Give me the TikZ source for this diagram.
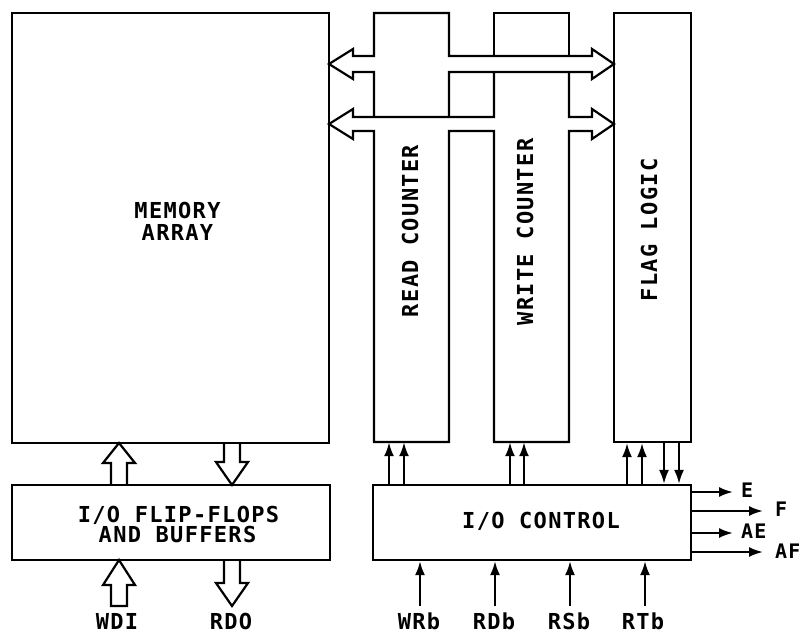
\documentclass[tikz,border=0pt]{standalone}
\usepackage{fontspec}
\newfontfamily\dfont[LetterSpace=6]{DejaVu Sans Mono Bold}
\usetikzlibrary{arrows.meta}
\begin{document}
\begin{tikzpicture}[x=1pt,y=-1pt,
  ln/.style={line width=2.2pt, line join=miter},
  box/.style={draw, line width=2.2pt, inner sep=0pt},
  ghost/.style={inner sep=0pt},
  lbl/.style={inner sep=0pt, anchor=base, font=\dfont\fontsize{22}{26}\selectfont},
  slbl/.style={inner sep=0pt, anchor=base west, font=\dfont\fontsize{20}{24}\selectfont},
  sarr/.style={line width=2.2pt, -{Latex[length=14pt,width=10pt]}}]
\useasboundingbox (0,0) rectangle (799,634);

% boxes
\node[box, minimum width=317pt, minimum height=430pt] (mem) at (170.5,228) {};
\node[box, minimum width=77pt, minimum height=429pt] (flag) at (652.5,227.5) {};
\node[box, minimum width=318pt, minimum height=75pt] (iof) at (171,522.5) {};
\node[box, minimum width=318pt, minimum height=75pt] (ctl) at (532,522.5) {};
\node[ghost, minimum width=75pt, minimum height=311pt] (rc) at (411.5,286.5) {};
\node[ghost, minimum width=75pt, minimum height=311pt] (wc) at (531.5,286.5) {};

% counters and buses
\draw[ln] (494,72) -- (494,117) -- (353,117) -- (353,109) -- (329,124) -- (353,139)
  -- (353,131) -- (374,131) -- (374,442) -- (449,442) -- (449,131) -- (494,131)
  -- (494,442) -- (569,442) -- (569,131) -- (592,131) -- (592,139) -- (614,124)
  -- (592,109) -- (592,117) -- (569,117) -- (569,72);
\draw[ln] (374,117) -- (374,72) -- (353,72) -- (353,79) -- (329,64) -- (353,49)
  -- (353,56) -- (374,56) -- (374,13) -- (449,13) -- (449,56) -- (592,56)
  -- (592,49) -- (614,64) -- (592,79) -- (592,72) -- (449,72) -- (449,117);
\draw[ln] (494,56) -- (494,13) -- (569,13) -- (569,56);

% hollow arrows
\draw[ln] (111,485) -- (111,463) -- (103,463) -- (119,443) -- (135,463) -- (127,463) -- (127,485);
\draw[ln] (224,443) -- (224,462) -- (216,462) -- (232,485) -- (248,462) -- (240,462) -- (240,443);
\draw[ln] (111,606) -- (111,585) -- (103,585) -- (119,560) -- (135,585) -- (127,585) -- (127,606) -- cycle;
\draw[ln] (224,560) -- (224,583) -- (216,583) -- (232,606) -- (248,583) -- (240,583) -- (240,560);

% texts
\node[lbl] (m1) at (177.5,218) {MEMORY};
\node[lbl] (m2) at (177.5,240) {ARRAY};
\node[lbl] (f1) at (178.5,522) {I/O FLIP-FLOPS};
\node[lbl] (f2) at (177.5,542) {AND BUFFERS};
\node[lbl] (c1) at (541,528) {I/O CONTROL};
\node[lbl, rotate=90] (rct) at (418,231) {READ COUNTER};
\node[lbl, rotate=90] (wct) at (533,232) {WRITE COUNTER};
\node[lbl, rotate=90] (flt) at (657,230) {FLAG LOGIC};
\node[lbl] (wdi) at (117,629) {WDI};
\node[lbl] (rdo) at (231,629) {RDO};
\node[lbl] (wrb) at (419,629) {WRb};
\node[lbl] (rdb) at (494,629) {RDb};
\node[lbl] (rsb) at (569,629) {RSb};
\node[lbl] (rtb) at (643,629) {RTb};
\node[slbl] (e) at (741,497) {E};
\node[slbl] (f) at (775,516) {F};
\node[slbl] (ae) at (741,538) {AE};
\node[slbl] (af) at (775,558) {AF};

% control arrows up into counters
\foreach \x in {389,404} \draw[sarr] (\x,0 |- ctl.north) -- (\x,0 |- rc.south);
\foreach \x in {510,524} \draw[sarr] (\x,0 |- ctl.north) -- (\x,0 |- wc.south);
\foreach \x in {627,642} \draw[sarr] (\x,0 |- ctl.north) -- (\x,0 |- flag.south);
\foreach \x in {664,679} \draw[sarr] (\x,0 |- flag.south) -- (\x,0 |- ctl.north);

% inputs
\foreach \x in {420,495,570,645} \draw[sarr] (\x,606) -- (\x,0 |- ctl.south);

% outputs
\draw[sarr] (ctl.east |- 0,492) -- (733,492);
\draw[sarr] (ctl.east |- 0,511) -- (763,511);
\draw[sarr] (ctl.east |- 0,533) -- (733,533);
\draw[sarr] (ctl.east |- 0,552) -- (763,552);
\end{tikzpicture}
\end{document}
